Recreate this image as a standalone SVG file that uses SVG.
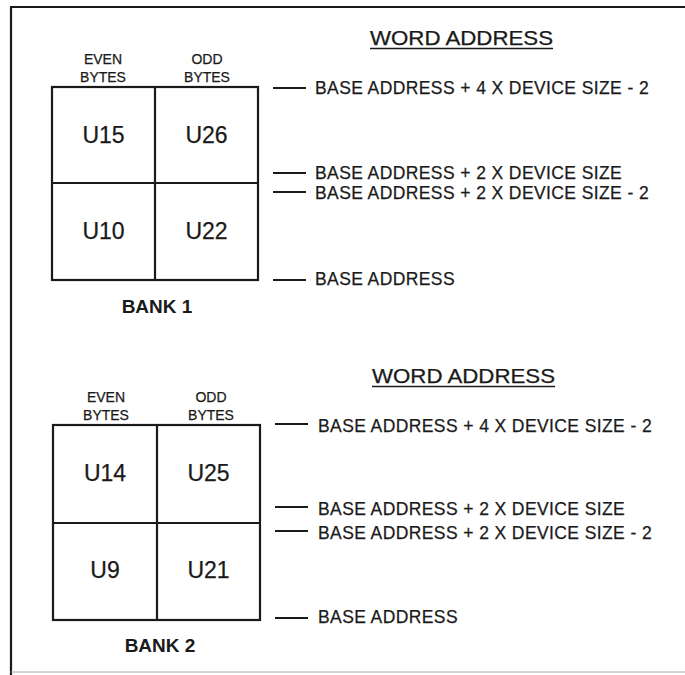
<svg xmlns="http://www.w3.org/2000/svg" width="685" height="675" viewBox="0 0 685 675">
<style>
  text { font-family: "Liberation Sans", Arial, sans-serif; fill: #1a1a1a; stroke: #1a1a1a; stroke-width: 0.25; }
  .hdr { font-size: 14px; text-anchor: middle; }
  .chip { font-size: 23px; text-anchor: middle; }
  .lbl { font-size: 17.5px; letter-spacing: 0.4px; }
  .title { font-size: 19.5px; }
  .bank { font-size: 19px; font-weight: bold; text-anchor: middle; stroke-width: 0; }
  .grid { fill: none; stroke: #1a1a1a; stroke-width: 2.2; }
  .tick { stroke: #1a1a1a; stroke-width: 2; }
  .ul { stroke: #1a1a1a; stroke-width: 1.6; }
</style>
<rect x="0" y="0" width="685" height="675" fill="#ffffff"/>
<g id="frame">
  <line x1="11" y1="7" x2="685" y2="7" stroke="#1a1a1a" stroke-width="2.2"/>
  <line x1="11" y1="6" x2="11" y2="675" stroke="#1a1a1a" stroke-width="2.2"/>
  <line x1="11" y1="672" x2="685" y2="672" stroke="#aaaaaa" stroke-width="1"/>
</g>

<!-- BANK 1 -->
<g id="bank1">
  <g id="bank1-title">
    <text class="title" x="370" y="45" textLength="183" lengthAdjust="spacingAndGlyphs">WORD ADDRESS</text>
    <line class="ul" x1="370" y1="48.5" x2="553" y2="48.5"/>
  </g>
  <g id="bank1-headers">
    <text class="hdr" x="103" y="64">EVEN</text>
    <text class="hdr" x="103" y="82">BYTES</text>
    <text class="hdr" x="207" y="64">ODD</text>
    <text class="hdr" x="207" y="82">BYTES</text>
  </g>
  <rect class="grid" x="52" y="87" width="206" height="193"/>
  <g id="U15"><rect x="52" y="87" width="103" height="96" fill="none"/><text class="chip" x="103.5" y="143">U15</text></g>
  <g id="U26"><rect x="155" y="87" width="103" height="96" fill="none"/><text class="chip" x="206.5" y="143">U26</text></g>
  <g id="U10"><rect x="52" y="183" width="103" height="97" fill="none"/><text class="chip" x="103.5" y="239">U10</text></g>
  <g id="U22"><rect x="155" y="183" width="103" height="97" fill="none"/><text class="chip" x="206.5" y="239">U22</text></g>
  <line class="grid" x1="155" y1="87" x2="155" y2="280"/>
  <line class="grid" x1="52" y1="183" x2="258" y2="183"/>
  <text class="bank" x="157" y="313">BANK 1</text>
  <g id="bank1-labels">
    <text class="lbl" x="315" y="94">BASE ADDRESS + 4 X DEVICE SIZE - 2</text>
    <text class="lbl" x="315" y="179">BASE ADDRESS + 2 X DEVICE SIZE</text>
    <text class="lbl" x="315" y="199">BASE ADDRESS + 2 X DEVICE SIZE - 2</text>
    <text class="lbl" x="315" y="285">BASE ADDRESS</text>
  </g>
</g>

<!-- BANK 2 -->
<g id="bank2">
  <g id="bank2-title">
    <text class="title" x="372" y="383" textLength="183" lengthAdjust="spacingAndGlyphs">WORD ADDRESS</text>
    <line class="ul" x1="372" y1="386.5" x2="555" y2="386.5"/>
  </g>
  <g id="bank2-headers">
    <text class="hdr" x="106" y="402">EVEN</text>
    <text class="hdr" x="106" y="420">BYTES</text>
    <text class="hdr" x="211" y="402">ODD</text>
    <text class="hdr" x="211" y="420">BYTES</text>
  </g>
  <rect class="grid" x="53" y="425" width="207" height="195"/>
  <g id="U14"><rect x="53" y="425" width="104" height="98" fill="none"/><text class="chip" x="105" y="481">U14</text></g>
  <g id="U25"><rect x="157" y="425" width="103" height="98" fill="none"/><text class="chip" x="208.5" y="481">U25</text></g>
  <g id="U9"><rect x="53" y="523" width="104" height="97" fill="none"/><text class="chip" x="105" y="578">U9</text></g>
  <g id="U21"><rect x="157" y="523" width="103" height="97" fill="none"/><text class="chip" x="208.5" y="578">U21</text></g>
  <line class="grid" x1="157" y1="425" x2="157" y2="620"/>
  <line class="grid" x1="53" y1="523" x2="260" y2="523"/>
  <text class="bank" x="160" y="652">BANK 2</text>
  <g id="bank2-labels">
    <text class="lbl" x="318" y="432">BASE ADDRESS + 4 X DEVICE SIZE - 2</text>
    <text class="lbl" x="318" y="515">BASE ADDRESS + 2 X DEVICE SIZE</text>
    <text class="lbl" x="318" y="539">BASE ADDRESS + 2 X DEVICE SIZE - 2</text>
    <text class="lbl" x="318" y="623">BASE ADDRESS</text>
  </g>
</g>

<g id="connectors">
  <line class="tick" x1="273" y1="88" x2="306" y2="88"/>
  <line class="tick" x1="273" y1="173" x2="306" y2="173"/>
  <line class="tick" x1="273" y1="192" x2="306" y2="192" stroke-width="1.3"/>
  <line class="tick" x1="273" y1="280" x2="306" y2="280" stroke-width="1.5"/>
  <line class="tick" x1="275" y1="424" x2="308" y2="424"/>
  <line class="tick" x1="275" y1="507" x2="308" y2="507" stroke-width="1.3"/>
  <line class="tick" x1="275" y1="531" x2="308" y2="531" stroke-width="1.3"/>
  <line class="tick" x1="275" y1="618" x2="308" y2="618"/>
</g>
</svg>
